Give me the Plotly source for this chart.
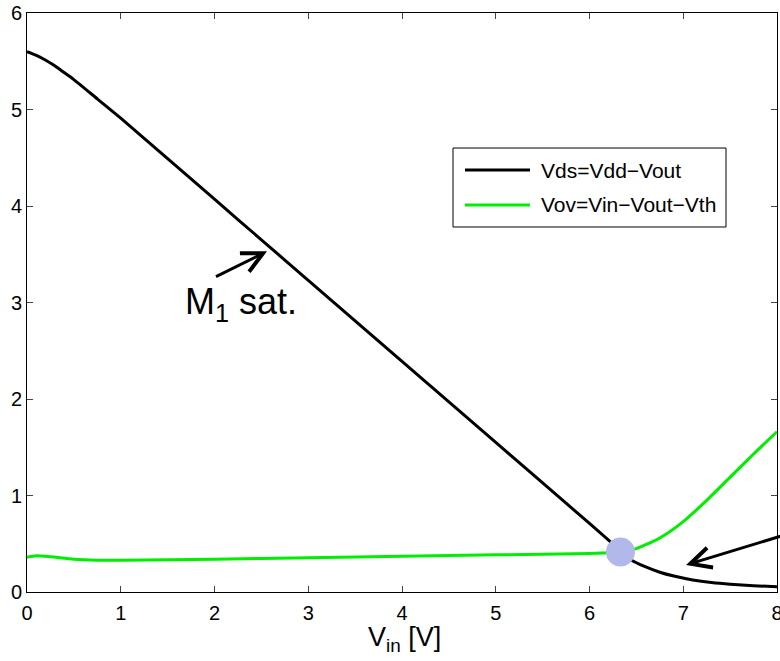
import plotly.graph_objects as go

# Data
vin_vds = [0.0, 0.1, 0.2, 0.3, 0.4, 0.5, 0.75, 1.0, 1.5, 2.0, 2.5, 3.0, 3.5, 4.0, 4.5, 5.0, 5.5, 6.0, 6.33, 6.45, 6.6, 6.75, 6.9, 7.1, 7.3, 7.5, 7.75, 8.0]
vds = [5.60, 5.56, 5.51, 5.45, 5.38, 5.31, 5.11, 4.91, 4.49, 4.07, 3.65, 3.23, 2.81, 2.39, 1.97, 1.55, 1.13, 0.71, 0.43, 0.33, 0.26, 0.205, 0.165, 0.125, 0.098, 0.08, 0.065, 0.055]

vin_vov = [0.0, 0.1, 0.25, 0.5, 0.75, 1.0, 2.0, 3.0, 4.0, 5.0, 6.0, 6.33, 6.5, 6.6, 6.75, 7.0, 7.25, 7.5, 7.75, 8.0]
vov = [0.36, 0.375, 0.365, 0.34, 0.33, 0.33, 0.34, 0.355, 0.37, 0.385, 0.40, 0.415, 0.45, 0.49, 0.56, 0.73, 0.95, 1.19, 1.43, 1.66]

cross_x = [6.33]
cross_y = [0.415]

names = ["Vds=Vdd\u2212Vout", "Vov=Vin\u2212Vout\u2212Vth"]
colors = ["black", "#00ee00"]
x_ticks = [0, 1, 2, 3, 4, 5, 6, 7, 8]
y_ticks = [0, 1, 2, 3, 4, 5, 6]

FONT = "Liberation Sans, Arial, Helvetica, sans-serif"

fig = go.Figure()
fig.add_trace(go.Scatter(x=vin_vds, y=vds, mode="lines", name=names[0], showlegend=False,
                         line=dict(color=colors[0], width=3, shape="spline", smoothing=0.6)))
fig.add_trace(go.Scatter(x=vin_vov, y=vov, mode="lines", name=names[1], showlegend=False,
                         line=dict(color=colors[1], width=3, shape="spline", smoothing=0.6)))
fig.add_trace(go.Scatter(x=cross_x, y=cross_y, mode="markers", showlegend=False,
                         marker=dict(size=29, color="#b3b8ea")))

# legend box (drawn like MATLAB's)
fig.add_shape(type="rect", xref="paper", yref="paper", x0=0.568, x1=0.932, y0=0.6304, y1=0.7668,
              line=dict(color="black", width=1), fillcolor="white", layer="above")
legend_rows = [0.7288, 0.6684]
for name, col, yy in zip(names, colors, legend_rows):
    fig.add_shape(type="line", xref="paper", yref="paper", x0=0.584, x1=0.6707, y0=yy, y1=yy,
                  line=dict(color=col, width=3), layer="above")
    fig.add_annotation(x=0.682, y=yy, xref="paper", yref="paper", xanchor="left", yanchor="middle",
                       text=name, showarrow=False, font=dict(family=FONT, size=21, color="black"))

fig.add_annotation(x=2.56, y=3.53, ax=2.0, ay=3.26, xref="x", yref="y", axref="x", ayref="y",
                   text="", showarrow=True, arrowhead=5, arrowsize=1.35, arrowwidth=3, arrowcolor="black")
fig.add_annotation(x=2.28, y=2.98, xref="x", yref="y", text="M<sub>1</sub> sat.", showarrow=False,
                   font=dict(family=FONT, size=36, color="black"))
fig.add_annotation(x=7.03, y=0.28, ax=8.45, ay=0.70, xref="x", yref="y", axref="x", ayref="y",
                   text="", showarrow=True, arrowhead=5, arrowsize=1.35, arrowwidth=3, arrowcolor="black")
fig.add_annotation(x=0.503, y=-0.048, xref="paper", yref="paper", yanchor="top",
                   text="V<sub>in</sub> [V]", showarrow=False,
                   font=dict(family=FONT, size=27, color="black"))

axis_common = dict(showline=True, linecolor="black", linewidth=1, mirror="ticks",
                   ticks="inside", ticklen=6, tickcolor="#444", showgrid=False, zeroline=False,
                   ticklabeloverflow="allow", automargin=False,
                   tickfont=dict(family=FONT, size=20, color="black"))
fig.update_xaxes(range=[0, 8], tickvals=x_ticks, ticklabelstandoff=3, **axis_common)
fig.update_yaxes(range=[0, 6], tickvals=y_ticks, ticklabelstandoff=0, **axis_common)

fig.update_layout(
    width=780, height=661,
    margin=dict(l=27, r=3, t=13, b=69),
    paper_bgcolor="white", plot_bgcolor="white",
    font=dict(family=FONT, color="black"),
    showlegend=False,
)

fig.write_html("out.html")
